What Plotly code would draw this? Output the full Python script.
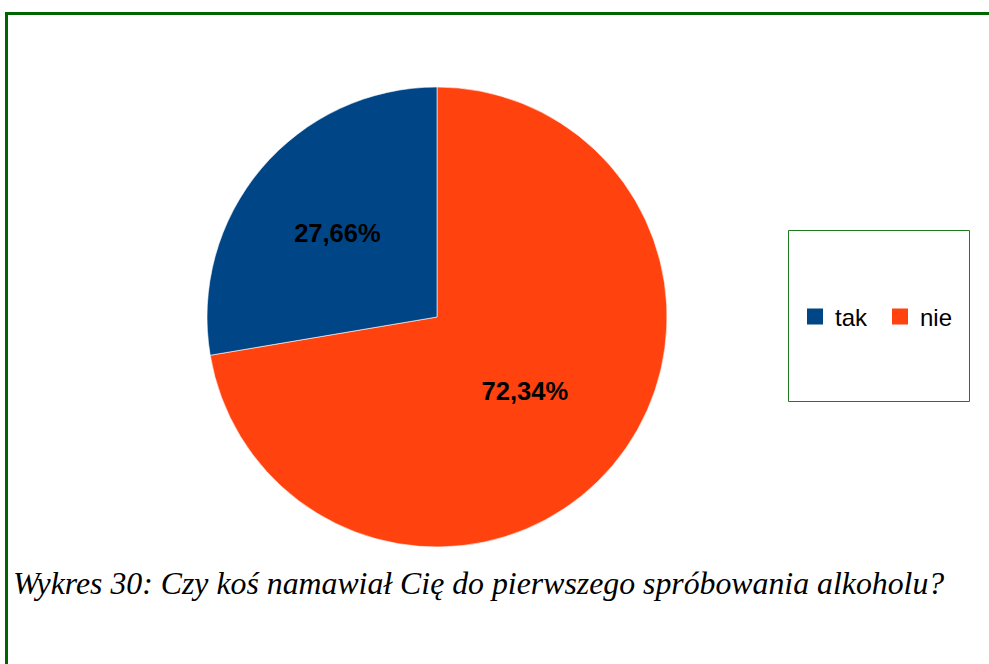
import plotly.graph_objects as go

W, H = 989, 664

categories = ["tak", "nie"]
values = [27.66, 72.34]
colors = ["#004586", "#ff420e"]
caption = "Wykres 30: Czy koś namawiał Cię do pierwszego spróbowania alkoholu?"

def px_x(x):
    return x / W

def px_y(y):
    return 1 - y / H

fig = go.Figure()

# drawn clockwise from 12 o'clock in reverse order so "tak" sits to the left of 12 o'clock
fig.add_trace(go.Pie(
    labels=categories[::-1],
    values=values[::-1],
    marker=dict(colors=colors[::-1], line=dict(color="white", width=0.6)),
    sort=False,
    direction="clockwise",
    rotation=0,
    texttemplate="%{value:.2f}%",
    textposition="inside",
    insidetextorientation="horizontal",
    textfont=dict(family="Liberation Sans, Arial", size=25.5, color="black", weight="bold"),
    showlegend=False,
    hoverinfo="label+percent",
    domain=dict(x=[px_x(207), px_x(667)], y=[px_y(547), px_y(87)]),
))

# legend entries (dummy traces so the legend squares match)
for cat, col in zip(categories, colors):
    fig.add_trace(go.Scatter(
        x=[None], y=[None], mode="markers", name=cat,
        marker=dict(symbol="square", size=16, color=col),
        showlegend=True,
    ))

shapes = [
    # outer frame (top and left edges)
    dict(type="line", xref="paper", yref="paper",
         x0=px_x(5), x1=1.05, y0=px_y(13.5), y1=px_y(13.5),
         line=dict(color="#006400", width=3)),
    dict(type="line", xref="paper", yref="paper",
         x0=px_x(6.5), x1=px_x(6.5), y0=px_y(12), y1=-0.05,
         line=dict(color="#006400", width=3)),
    # legend box
    dict(type="rect", xref="paper", yref="paper",
         x0=px_x(788.5), x1=px_x(969.5), y0=px_y(401.5), y1=px_y(230.5),
         line=dict(color="#1f7a1f", width=1), fillcolor="rgba(0,0,0,0)"),
]

fig.update_layout(
    width=W, height=H,
    margin=dict(l=0, r=0, t=0, b=0),
    paper_bgcolor="white",
    plot_bgcolor="white",
    separators=", ",
    xaxis=dict(visible=False, domain=[0, 0.01]),
    yaxis=dict(visible=False, domain=[0, 0.01]),
    shapes=shapes,
    showlegend=True,
    legend=dict(
        orientation="h",
        x=px_x(880), y=px_y(317),
        xanchor="center", yanchor="middle",
        font=dict(family="Liberation Sans, Arial", size=24, color="black"),
        bgcolor="rgba(0,0,0,0)",
        borderwidth=0,
        itemwidth=30,
        entrywidth=40,
    ),
    annotations=[
        dict(text=caption, xref="paper", yref="paper",
             x=px_x(11), y=px_y(583), xanchor="left", yanchor="middle",
             showarrow=False,
             font=dict(family="Liberation Serif, Times New Roman", size=31.8,
                       color="black", style="italic")),
    ],
)

fig.write_html("out.html", config={"displayModeBar": False},
               post_script="document.body.style.margin='0px';")
